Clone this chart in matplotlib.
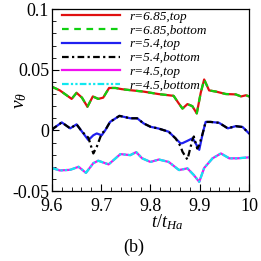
import matplotlib
matplotlib.use("Agg")
import matplotlib.pyplot as plt
from matplotlib.ticker import MultipleLocator, FixedLocator

plt.rcParams['font.family'] = ['Liberation Serif', 'DejaVu Serif']
plt.rcParams['mathtext.fontset'] = 'custom'
plt.rcParams['mathtext.rm'] = 'Liberation Serif'
plt.rcParams['mathtext.it'] = 'Liberation Serif:italic'

# r = 6.85
t_685 = [9.600, 9.616, 9.640, 9.650, 9.661, 9.672, 9.683, 9.694, 9.704, 9.716,
         9.729, 9.742, 9.763, 9.786, 9.816, 9.847, 9.857, 9.865, 9.875, 9.885,
         9.894, 9.902, 9.909, 9.919, 9.933, 9.953, 9.973, 9.984, 9.994, 10.0]
v_685_top = [0.036, 0.033, 0.026, 0.031, 0.027, 0.0195, 0.028, 0.026, 0.027, 0.035,
             0.035, 0.034, 0.033, 0.032, 0.030, 0.0285, 0.0225, 0.018, 0.0217, 0.020,
             0.014, 0.031, 0.042, 0.033, 0.032, 0.030, 0.0297, 0.028, 0.029, 0.028]
v_685_bot = list(v_685_top)

# r = 5.4
t_54 = [9.600, 9.603, 9.620, 9.637, 9.650, 9.661, 9.674, 9.684, 9.691, 9.701,
        9.708, 9.718, 9.737, 9.759, 9.773, 9.786, 9.800, 9.816, 9.837, 9.851,
        9.861, 9.865, 9.875, 9.885, 9.888, 9.895, 9.899, 9.906, 9.912, 9.922,
        9.939, 9.957, 9.973, 9.987, 10.0]
v_54_top = [0.000, 0.0017, 0.0066, 0.0017, 0.005, -0.001, -0.008, -0.004, -0.0025, -0.004,
            0.000, 0.007, 0.012, 0.010, 0.010, 0.0058, 0.003, 0.0016, -0.0011, -0.0066,
            -0.0107, -0.0105, -0.0086, -0.0066, -0.008, -0.013, -0.016, -0.0025, 0.007, 0.007,
            0.0063, 0.0017, 0.0035, 0.0028, -0.0025]
v_54_bot = [0.000, 0.0017, 0.0066, 0.0017, 0.005, -0.001, -0.006, -0.019, -0.0135, -0.0025,
            0.000, 0.007, 0.012, 0.010, 0.010, 0.0058, 0.003, 0.0016, -0.0011, -0.0066,
            -0.013, -0.0176, -0.024, -0.008, -0.005, -0.015, -0.012, -0.0025, 0.007, 0.007,
            0.0063, 0.0017, 0.0035, 0.0028, -0.0025]

# r = 4.5
t_45 = [9.600, 9.616, 9.637, 9.654, 9.669, 9.684, 9.694, 9.715, 9.725, 9.739,
        9.759, 9.771, 9.783, 9.800, 9.817, 9.837, 9.858, 9.875, 9.888, 9.899,
        9.909, 9.926, 9.943, 9.960, 9.977, 10.0]
v_45_top = [-0.031, -0.033, -0.0325, -0.030, -0.035, -0.027, -0.025, -0.028, -0.0245, -0.0195,
            -0.0204, -0.0179, -0.023, -0.026, -0.024, -0.026, -0.0327, -0.0313, -0.0368, -0.0424,
            -0.031, -0.023, -0.019, -0.023, -0.023, -0.0222]
v_45_bot = list(v_45_top)

x_ticks = [9.6, 9.7, 9.8, 9.9, 10.0]
x_ticklabels = ['9.6', '9.7', '9.8', '9.9', '10']
y_ticks = [-0.05, 0.0, 0.05, 0.1]
y_ticklabels = ['-0.05', '0', '0.05', '0.1']

fig = plt.figure(figsize=(2.61, 2.61), dpi=100)
ax = fig.add_axes([0.199, 0.268, 0.755, 0.697])

lw = 1.6
ax.plot(t_685, v_685_top, color='#e01010', lw=lw, label='r=6.85,top')
ax.plot(t_685, v_685_bot, color='#10d010', lw=lw, ls=(0, (3, 2.5)), label='r=6.85,bottom')
ax.plot(t_54, v_54_top, color='#2020f0', lw=lw, label='r=5.4,top')
ax.plot(t_54, v_54_bot, color='black', lw=lw, ls=(0, (3, 1.5, 1, 1.5)), label='r=5.4,bottom')
ax.plot(t_45, v_45_top, color='#f010f0', lw=lw, label='r=4.5,top')
ax.plot(t_45, v_45_bot, color='#10e8f0', lw=lw, ls=(0, (3, 1, 1, 1, 1, 1)), label='r=4.5,bottom')

ax.set_xlim(9.6, 10.0)
ax.set_ylim(-0.05, 0.1)
ax.xaxis.set_major_locator(FixedLocator(x_ticks))
ax.set_xticklabels(x_ticklabels)
ax.yaxis.set_major_locator(FixedLocator(y_ticks))
ax.set_yticklabels(y_ticklabels)
ax.xaxis.set_minor_locator(MultipleLocator(0.02))
ax.yaxis.set_minor_locator(MultipleLocator(0.01))
ax.tick_params(which='both', direction='in', top=False, right=False, labelsize=13)
ax.tick_params(axis='x', which='major', pad=5)
ax.tick_params(axis='y', which='major', pad=2)
ax.tick_params(which='major', length=5, width=0.8)
ax.tick_params(which='minor', length=3, width=0.6)
for s in ax.spines.values():
    s.set_linewidth(0.9)

leg = ax.legend(loc='upper left', bbox_to_anchor=(0.045, 1.0), frameon=False,
                prop={'style': 'italic', 'size': 9.5}, handlelength=4.4,
                handletextpad=0.7, labelspacing=0.12, borderpad=0.1, borderaxespad=0)

fig.text(0.077, 0.615, r'$v_{\theta}$', rotation=90, fontsize=14, ha='center', va='center')
fig.text(0.64, 0.148, r'$t/t_{Ha}$', fontsize=13, ha='center', va='center')
fig.text(0.513, 0.054, '(b)', fontsize=13, ha='center', va='center')

fig.savefig('out.png', dpi=100)
